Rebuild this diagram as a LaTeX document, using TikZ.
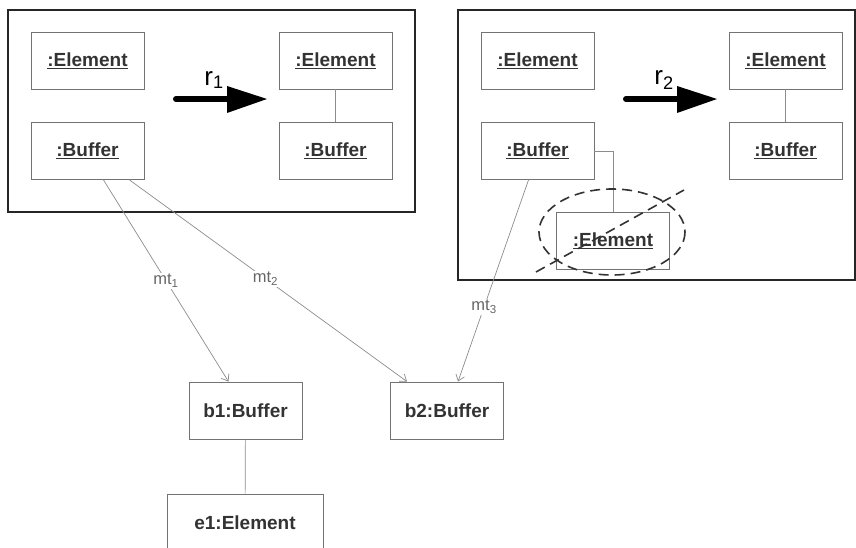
\documentclass[tikz,border=0pt]{standalone}
\usepackage{fontspec}
\setmainfont{Liberation Sans}
\usetikzlibrary{arrows.meta,calc}
\begin{document}
\begin{tikzpicture}[x=1pt,y=-1pt,
  frame/.style={draw=black!85,line width=1.4pt},
  obj/.style={draw=black!55,line width=0.9pt,minimum width=113pt,minimum height=57pt,
              inner sep=0pt,font=\fontsize{19}{22}\selectfont\bfseries,text=black!80},
  link/.style={draw=black!45,line width=0.7pt},
  mapping/.style={link,-{Straight Barb[length=6pt,width=9pt]}},
  maplabel/.style={fill=white,inner sep=1.5pt,text=black!60,font=\fontsize{16.5}{19}\selectfont},
  rulelabel/.style={font=\fontsize{26}{29}\selectfont,text=black},
  bigarrow/.style={line width=6pt,line cap=round,draw=black},
  strike/.style={draw=black!80,line width=1.6pt,dash pattern=on 10pt off 6pt}
]
\useasboundingbox (0,0) rectangle (856,548);

% rule r1
\draw[frame] (8,10) rectangle (415,212);
\node[obj] (le)  at (87.5,60.5)  {\underline{:Element}};
\node[obj] (lb)  at (87.5,151)   {\underline{:Buffer}};
\node[obj] (le2) at (335.5,60.5) {\underline{:Element}};
\node[obj] (lb2) at (335.5,151)  {\underline{:Buffer}};
\draw[link] (le2) -- (lb2);
\coordinate (r1s) at (176,99);
\coordinate (r1e) at (267,99);
\draw[bigarrow] (r1s) -- (230,99);
\fill[black] (227,86) -- (r1e) -- (227,113) -- cycle;
\node[rulelabel] (r1) at (214,80) {r\textsubscript{1}};

% rule r2
\draw[frame] (458,10) rectangle (855,280);
\node[obj] (re)  at (537.5,60.5) {\underline{:Element}};
\node[obj] (rb)  at (537.5,151)  {\underline{:Buffer}};
\node[obj] (rx)  at (613,240.5)  {\underline{:Element}};
\node[obj] (re2) at (785.5,60.5) {\underline{:Element}};
\node[obj] (rb2) at (785.5,151)  {\underline{:Buffer}};
\draw[link] (rb.east) -| (rx.north);
\draw[link] (re2) -- (rb2);
\draw[bigarrow] (626,99) -- (680,99);
\coordinate (r2e) at (717,99);
\fill[black] (677,86) -- (r2e) -- (677,113) -- cycle;
\node[rulelabel] (r2) at (664,80) {r\textsubscript{2}};

% deleted element: dashed ring and strike line
\draw[strike] (612,232) ellipse [x radius=73, y radius=43];
\draw[strike] (536,272) -- (684,190);

% host graph
\node[obj] (b1) at (245.5,410.5) {b1:Buffer};
\node[obj] (b2) at (447,410.5)   {b2:Buffer};
\node[obj,minimum width=156pt] (e1) at (245,522.5) {e1:Element};
\draw[link] (b1) -- (e1);

% matches
\draw[mapping] ([xshift=16pt]lb.south) -- node[maplabel,pos=0.5] (mt1) {mt\textsubscript{1}} ([xshift=-17pt]b1.north);
\draw[mapping] ([xshift=42pt]lb.south) -- node[maplabel,pos=0.49] (mt2) {mt\textsubscript{2}} ([xshift=-40pt]b2.north);
\draw[mapping] ([xshift=-9pt]rb.south) -- node[maplabel,pos=0.63] (mt3) {mt\textsubscript{3}} ([xshift=11pt]b2.north);
\end{tikzpicture}
\end{document}
